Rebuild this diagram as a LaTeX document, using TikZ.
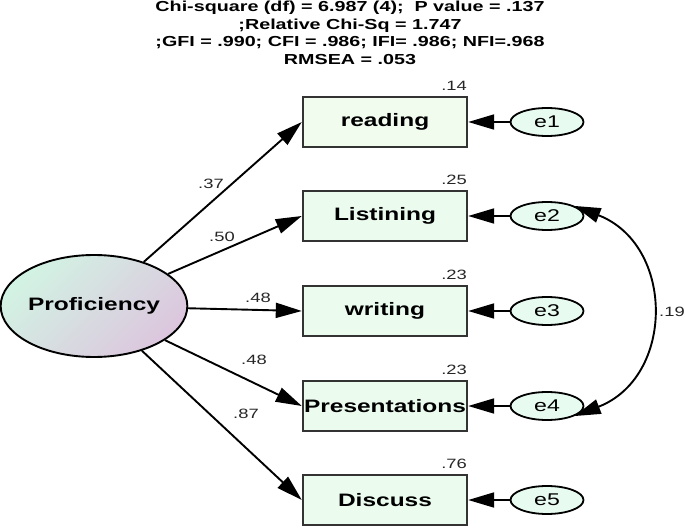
\documentclass[tikz,border=0pt]{standalone}
\usepackage{fontspec}
\setmainfont{Liberation Sans}[FakeStretch=1.36]
\usetikzlibrary{arrows.meta,shapes.geometric}
\definecolor{boxfill}{HTML}{EBFCEF}
\definecolor{readfill}{HTML}{F2FCEE}
\definecolor{errfill}{HTML}{E8FBF1}
\definecolor{profA}{HTML}{D2F3E3}
\definecolor{profB}{HTML}{DCC6DE}
\definecolor{boxline}{HTML}{333333}
\tikzset{
  obsbox/.style={draw=boxline, line width=2.4pt, fill=boxfill, minimum width=164pt, minimum height=50pt, inner sep=0pt, font=\fontsize{18}{20}\selectfont\bfseries},
  errell/.style={ellipse, draw=black, line width=1.8pt, fill=errfill, minimum width=73pt, minimum height=28pt, inner sep=0pt, font=\fontsize{17}{19}\selectfont},
  coef/.style={font=\fontsize{13.5}{15}\selectfont, inner sep=0pt, text=black!85},
  path/.style={line width=1.9pt, -{Triangle[length=26pt,width=15pt]}},
  covpath/.style={line width=1.9pt, {Triangle[length=26pt,width=15pt]}-{Triangle[length=26pt,width=15pt]}}
}
\begin{document}
\begin{tikzpicture}[x=1pt,y=-1pt]
\useasboundingbox (0,0) rectangle (685,529);
% title
\node[font=\fontsize{14.5}{17.6}\selectfont\bfseries, align=center, inner sep=0pt, anchor=north] (title) at (350,1)
  {Chi-square (df) = 6.987 (4);\ \ P value = .137\\;Relative Chi-Sq = 1.747\\;GFI = .990; CFI = .986; IFI= .986; NFI=.968\\RMSEA = .053};
% latent
\node[ellipse, draw=black, line width=1.9pt, top color=profA, bottom color=profB, shading angle=45,
      minimum width=182pt, minimum height=102pt, inner sep=0pt, font=\fontsize{18}{20}\selectfont\bfseries] (prof) at (94,306) {Proficiency};
% observed
\node[obsbox, fill=readfill] (reading) at (385,122) {reading};
\node[obsbox] (listining) at (385,216) {Listining};
\node[obsbox] (writing) at (385,311) {writing};
\node[obsbox] (present) at (385,406) {Presentations};
\node[obsbox] (discuss) at (385,500) {Discuss};
% errors
\node[errell] (e1) at (547,122) {e1};
\node[errell] (e2) at (547,216) {e2};
\node[errell] (e3) at (547,311) {e3};
\node[errell] (e4) at (547,406) {e4};
\node[errell] (e5) at (547,500) {e5};
% R2
\node[coef, anchor=east] (r1) at (467,86) {.14};
\node[coef, anchor=east] (r2) at (467,180) {.25};
\node[coef, anchor=east] (r3) at (467,275) {.23};
\node[coef, anchor=east] (r4) at (467,370) {.23};
\node[coef, anchor=east] (r5) at (467,464) {.76};
% paths
\draw[path] (prof) -- (reading.west);
\draw[path] (prof) -- (listining.west);
\draw[path] (prof) -- (writing.west);
\draw[path] (prof) -- (present.west);
\draw[path] (prof) -- (discuss.west);
\foreach \e/\b in {e1/reading,e2/listining,e3/writing,e4/present,e5/discuss}
  \draw[path] (\e.west) -- (\b.east);
\draw[covpath] (e2.20) .. controls (675,245) and (675,377) .. (e4.-20);
% loadings
\node[coef] (l1) at (211,184) {.37};
\node[coef] (l2) at (222,237) {.50};
\node[coef] (l3) at (258,298) {.48};
\node[coef] (l4) at (254,360) {.48};
\node[coef] (l5) at (246,414) {.87};
\node[coef] (cv) at (672,312) {.19};
\end{tikzpicture}
\end{document}
